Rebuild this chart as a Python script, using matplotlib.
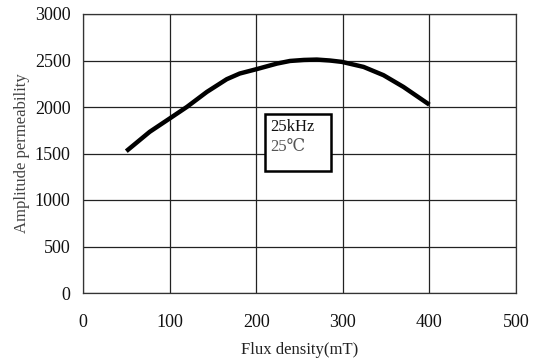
import matplotlib
matplotlib.use('Agg')
import matplotlib.pyplot as plt
from matplotlib.patches import Rectangle

plt.rcParams['font.family'] = ['Liberation Serif', 'DejaVu Serif']

# data
flux = [50, 77, 100, 120, 143, 166, 181, 200, 224, 239, 255, 270, 285, 299, 324, 347, 370, 400]
perm = [1525, 1733, 1876, 2001, 2162, 2299, 2360, 2406, 2467, 2495, 2506, 2510, 2500, 2485, 2431, 2342, 2216, 2025]
xticks = [0, 100, 200, 300, 400, 500]
yticks = [0, 500, 1000, 1500, 2000, 2500, 3000]

fig = plt.figure(figsize=(5.34, 3.64), dpi=100)
ax = fig.add_axes([83 / 534, 1 - 293 / 364, 433 / 534, 279 / 364])

ax.plot(flux, perm, color='black', lw=3.2, solid_capstyle='butt', solid_joinstyle='round')

ax.set_xlim(0, 500)
ax.set_ylim(0, 3000)
ax.set_xticks(xticks)
ax.set_yticks(yticks)
ax.grid(True, color='#222222', lw=0.9)
ax.set_axisbelow(True)
for s in ax.spines.values():
    s.set_color('#333333')
    s.set_linewidth(0.9)
ax.tick_params(length=0, labelsize=13, colors='#111111')
ax.tick_params(axis='x', pad=15)
ax.tick_params(axis='y', pad=9)

ax.set_xlabel('Flux density(mT)', fontsize=12, color='#222222', labelpad=8)
ax.set_ylabel('Amplitude permeability', fontsize=12, color='#444444', labelpad=3)

# annotation box (25kHz / 25C)
ax.add_patch(Rectangle((210, 1310), 76, 613, fc='white', ec='black', lw=1.8, zorder=3))
ax.text(216, 1790, '25kHz', fontsize=12, color='#111111', va='center', ha='left', zorder=4)
ax.text(216, 1565, '25\u2103', fontsize=12, color='#555555', va='center', ha='left', zorder=4)

fig.savefig('out.png', dpi=100)
